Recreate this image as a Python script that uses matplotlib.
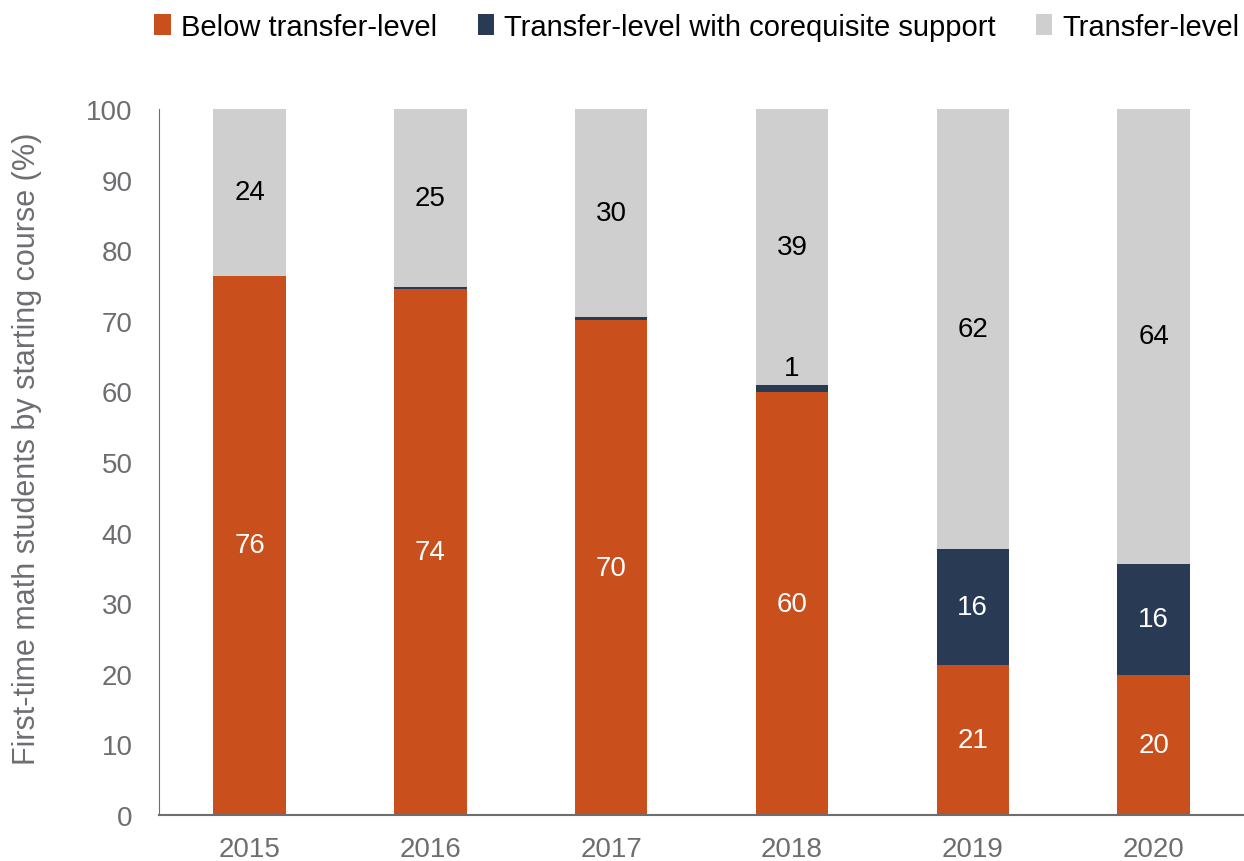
import matplotlib
matplotlib.use('Agg')
import matplotlib.pyplot as plt
import numpy as np

plt.rcParams['font.family'] = ['Liberation Sans', 'DejaVu Sans']

# data
years = ['2015', '2016', '2017', '2018', '2019', '2020']
below = [76.4, 74.5, 70.1, 59.9, 21.3, 19.8]
coreq = [0.0, 0.3, 0.4, 1.0, 16.4, 15.8]
transfer = [23.6, 25.2, 29.5, 39.1, 62.3, 64.4]
below_lbl = [76, 74, 70, 60, 21, 20]
coreq_lbl = [None, None, None, 1, 16, 16]
transfer_lbl = [24, 25, 30, 39, 62, 64]

c_below = '#C94F1C'
c_coreq = '#283A54'
c_transfer = '#CFCFCF'
gray = '#6D6E71'

fig = plt.figure(figsize=(12.44, 8.62), dpi=100)
ax = fig.add_axes([0.128, 0.0534, 0.872, 0.819])

x = np.arange(len(years))
w = 0.4
b1 = ax.bar(x, below, width=w, color=c_below, label='Below transfer-level')
b2 = ax.bar(x, coreq, width=w, bottom=below, color=c_coreq,
            label='Transfer-level with corequisite support')
bot3 = np.array(below) + np.array(coreq)
b3 = ax.bar(x, transfer, width=w, bottom=bot3, color=c_transfer, label='Transfer-level')

fs = 20
for i in range(len(years)):
    ax.text(x[i], below[i] / 2, below_lbl[i], ha='center', va='center',
            color='white', fontsize=fs)
    if coreq_lbl[i] is not None:
        if coreq[i] < 3:
            ax.text(x[i], bot3[i] + 0.6, coreq_lbl[i], ha='center', va='bottom',
                    color='black', fontsize=fs)
        else:
            ax.text(x[i], below[i] + coreq[i] / 2, coreq_lbl[i], ha='center',
                    va='center', color='white', fontsize=fs)
    ax.text(x[i], bot3[i] + transfer[i] / 2, transfer_lbl[i], ha='center',
            va='center', color='black', fontsize=fs)

ax.set_xlim(-0.5, 5.5)
ax.set_ylim(0, 100)
ax.set_yticks(range(0, 101, 10))
ax.set_xticks(x)
ax.set_xticklabels(years)
ax.tick_params(axis='both', length=0, labelsize=20, colors=gray)
ax.tick_params(axis='y', pad=19)
ax.tick_params(axis='x', pad=15)
for s in ['top', 'right']:
    ax.spines[s].set_visible(False)
ax.spines['left'].set_color(gray)
ax.spines['bottom'].set_color(gray)
ax.spines['bottom'].set_linewidth(1.5)
ax.set_ylabel('First-time math students by starting course (%)', fontsize=22,
              color=gray)
ax.yaxis.set_label_coords(-0.108, 0.52)

fig.legend(handles=[b1, b2, b3], loc='upper right', bbox_to_anchor=(1.013, 1.008),
           ncol=3, frameon=False, fontsize=21, handlelength=0.55, handleheight=0.7,
           handletextpad=0.35, columnspacing=1.4, borderaxespad=0.3)

plt.savefig('out.png')
